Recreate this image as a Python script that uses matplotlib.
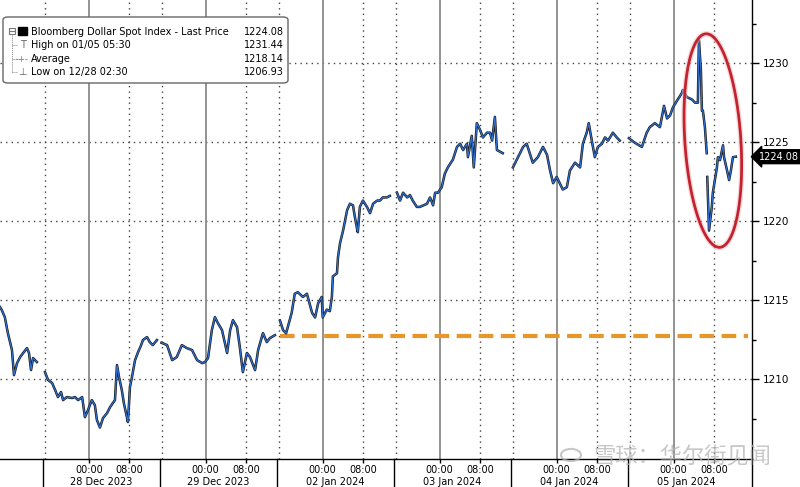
import numpy as np
import matplotlib
matplotlib.use("Agg")
import matplotlib.pyplot as plt
from matplotlib.patches import FancyBboxPatch, Rectangle, Polygon, Circle
from matplotlib.lines import Line2D
import matplotlib.transforms as mtransforms

plt.rcParams['font.family'] = ['DejaVu Sans', 'Noto Sans CJK SC']

# ---------------- data ----------------
# x = hours since start of the 28 Dec session (each session is 23 h, 00:00 at +9 h, 08:00 at +17 h)
session_labels = ['28 Dec 2023', '29 Dec 2023', '02 Jan 2024', '03 Jan 2024', '04 Jan 2024', '05 Jan 2024']
session_len = 23
hour_labels = ['00:00', '08:00']
hour_offsets = [9, 17]

t_27 = [-8.45, -8.1, -7.5, -6.9, -6.1, -5.7, -5.1, -4.5, -3.9, -3.15, -2.75, -2.35, -1.95, -1.2]
v_27 = [1214.56, 1214.37, 1213.92, 1212.91, 1211.84, 1210.25, 1211.01, 1211.39, 1211.65, 1211.96,
        1211.65, 1210.57, 1211.33, 1211.08]

t_28 = [0.4, 1.0, 1.8, 2.4, 2.95, 3.55, 3.95, 4.7, 5.7, 6.3, 6.9, 7.7, 8.25, 8.85, 9.6, 10.2, 10.6,
        11.2, 11.8, 12.6, 13.2, 14.15, 14.55, 14.95, 15.5, 15.9, 16.5, 16.7, 17.1, 17.5, 18.1, 18.7,
        19.3, 19.65, 20.45, 21.0, 21.6, 22.4]
v_28 = [1210.44, 1209.94, 1209.75, 1209.30, 1208.86, 1209.18, 1208.67, 1208.86, 1208.80, 1208.86,
        1208.67, 1208.86, 1207.59, 1208.04, 1208.67, 1208.35, 1207.41, 1206.93, 1207.53, 1207.85,
        1208.23, 1208.67, 1210.89, 1210.13, 1209.30, 1208.48, 1207.59, 1207.28, 1209.49, 1210.13,
        1211.20, 1211.71, 1212.15, 1212.47, 1212.66, 1212.34, 1212.15, 1212.47]

t_29 = [23.3, 24.4, 25.4, 26.3, 27.3, 28.3, 29.3, 30.3, 31.3, 31.85, 32.45, 33.2, 33.8, 34.4, 35.2,
        36.2, 36.8, 37.35, 38.15, 38.7, 39.3, 40.1, 40.7, 41.7, 42.3, 43.25, 44.0, 44.6, 45.6]
v_29 = [1212.30, 1212.15, 1211.20, 1211.39, 1212.15, 1211.96, 1211.84, 1211.20, 1211.01, 1211.08,
        1211.33, 1213.10, 1213.92, 1213.54, 1213.10, 1211.65, 1213.10, 1213.73, 1213.29, 1212.03,
        1210.44, 1211.65, 1211.39, 1210.57, 1211.84, 1212.91, 1212.34, 1212.59, 1212.78]

t_02 = [46.6, 47.2, 47.8, 48.9, 49.5, 50.1, 51.1, 51.9, 52.9, 53.5, 54.1, 54.8, 55.0, 55.8, 56.4,
        56.8, 57.0, 57.8, 58.0, 58.4, 59.0, 59.8, 60.35, 60.95, 61.3, 61.7, 61.9, 62.3, 62.9, 63.7,
        64.3, 64.9, 65.7, 66.25, 66.8, 67.6, 68.2]
v_02 = [1213.7, 1213.1, 1212.9, 1214.2, 1215.4, 1215.5, 1215.2, 1215.4, 1214.2, 1213.9, 1214.8,
        1215.2, 1213.9, 1214.4, 1214.3, 1215.2, 1216.5, 1216.7, 1217.7, 1218.6, 1219.4, 1220.7,
        1221.1, 1221.0, 1220.3, 1219.6, 1219.3, 1220.9, 1221.3, 1220.9, 1220.5, 1221.1, 1221.3,
        1221.3, 1221.5, 1221.5, 1221.6]

t_03 = [69.6, 70.2, 70.8, 71.6, 72.15, 72.7, 73.5, 74.1, 75.5, 76.1, 76.7, 77.1, 77.65, 78.4, 79.0,
        79.6, 80.6, 81.4, 82.0, 82.6, 83.35, 83.55, 84.3, 84.7, 85.3, 85.9, 86.5, 87.3, 87.9, 88.3,
        88.85, 89.25, 89.85, 90.4]
v_03 = [1221.8, 1221.3, 1221.8, 1221.5, 1221.65, 1221.3, 1220.9, 1220.9, 1221.1, 1221.5, 1221.0,
        1221.8, 1221.8, 1222.15, 1223.0, 1223.4, 1223.9, 1224.7, 1224.9, 1224.5, 1224.9, 1224.05,
        1225.4, 1223.4, 1226.2, 1225.8, 1225.3, 1225.6, 1225.6, 1225.1, 1226.6, 1224.5, 1224.4,
        1224.3]

t_04 = [92.4, 93.4, 94.4, 95.1, 95.7, 96.3, 97.3, 98.3, 99.1, 99.7, 100.3, 101.0, 101.6, 102.2,
        103.0, 103.6, 104.6, 105.6, 106.15, 106.9, 107.3, 107.9, 108.5, 109.1, 109.9, 110.5, 111.1,
        112.05, 112.8, 113.4]
v_04 = [1223.4, 1224.05, 1224.7, 1224.9, 1224.3, 1223.7, 1224.05, 1224.7, 1224.2, 1223.2, 1222.4,
        1222.8, 1222.4, 1222.0, 1222.15, 1223.2, 1223.7, 1223.4, 1224.9, 1225.6, 1226.2, 1225.1,
        1224.05, 1224.7, 1224.9, 1225.3, 1225.1, 1225.6, 1225.3, 1225.1]

t_05a = [115.2, 116.2, 117.2, 117.75, 118.7, 119.3, 120.3, 121.3, 122.1, 122.7, 123.3, 123.85, 124.8,
         125.6, 125.8, 126.6, 127.6, 128.2, 128.76, 128.96, 129.35, 129.55, 129.74, 130.14, 130.5]
v_05a = [1225.25, 1225.0, 1224.8, 1224.7, 1225.6, 1225.95, 1226.2, 1225.95, 1227.3, 1226.5, 1226.7,
         1227.2, 1227.7, 1228.1, 1228.3, 1227.85, 1227.7, 1227.5, 1227.5, 1231.44, 1229.6, 1227.0,
         1227.0, 1225.95, 1224.3]
t_05b = [130.6, 130.8, 130.95, 131.5, 131.7, 132.1, 132.5, 132.7, 133.1, 133.7, 133.9, 134.5, 134.9,
         135.25, 135.65, 136.23]
v_05b = [1222.8, 1220.9, 1219.4, 1220.9, 1221.8, 1222.6, 1223.4, 1224.05, 1223.86, 1224.8, 1224.05,
         1223.2, 1222.6, 1223.2, 1224.05, 1224.08]

series_t = [t_27, t_28, t_29, t_02, t_03, t_04, t_05a, t_05b]
series_v = [v_27, v_28, v_29, v_02, v_03, v_04, v_05a, v_05b]

ref_level = 1212.75
ref_start, ref_end = 46.6, 138.6
last_price = 1224.08

legend_rows = ['Bloomberg Dollar Spot Index - Last Price', 'High on 01/05 05:30', 'Average', 'Low on 12/28 02:30']
legend_vals = ['1224.08', '1231.44', '1218.14', '1206.93']

yticks_major = [1210, 1215, 1220, 1225, 1230]

# ---------------- figure ----------------
W, H = 800, 487
fig = plt.figure(figsize=(W / 100, H / 100), dpi=100)
ax = fig.add_axes([0, 28 / H, 752 / W, 459 / H])
ax.set_xlim(-8.45, 139.4)
ax.set_ylim(1204.94, 1234.0)

for s in ['top', 'left']:
    ax.spines[s].set_visible(False)
for s in ['bottom', 'right']:
    ax.spines[s].set_color('black')
    ax.spines[s].set_linewidth(1.0)

# y axis on right
ax.yaxis.tick_right()
ax.set_yticks(yticks_major)
ax.set_yticks(np.arange(1207.5, 1234, 5), minor=True)
ax.tick_params(axis='y', which='major', length=5, width=1, pad=3, labelsize=7.5, colors='black')
ax.tick_params(axis='y', which='minor', length=3, width=1)

# x ticks
xt, xl = [], []
n_sess = len(session_labels)
for k in range(n_sess):
    for off, lab in zip(hour_offsets, hour_labels):
        xt.append(off + session_len * k)
        xl.append(lab)
ax.set_xticks(xt)
ax.set_xticklabels(xl)
ax.tick_params(axis='x', length=3, width=1, pad=1.5, labelsize=7, colors='black')

# grid
for y in yticks_major:
    ax.axhline(y, color='#444444', lw=1.0, ls=(0, (1, 3)), zorder=1)
for k in range(n_sess):
    base = session_len * k
    ax.axvline(base + hour_offsets[0], color='#8a8a8a', lw=1.3, zorder=1)
    ax.axvline(base + hour_offsets[1], color='#444444', lw=1.0, ls=(0, (1, 3)), zorder=1)
    ax.axvline(base + 0.4, color='#444444', lw=1.0, ls=(0, (1, 3)), zorder=1)
    # separator below axis
    sep = Line2D([base, base], [0, -28 / 459], transform=ax.get_xaxis_transform(),
                 color='black', lw=1.0, clip_on=False)
    ax.add_line(sep)
    ax.text(base + session_len / 2, -23 / 459, session_labels[k], transform=ax.get_xaxis_transform(),
            ha='center', va='center', fontsize=7)
ax.add_line(Line2D([ax.get_xlim()[1]] * 2, [0, -28 / 459], transform=ax.get_xaxis_transform(),
                   color='black', lw=1.0, clip_on=False))

# reference dashed line
ax.plot([ref_start, ref_end], [ref_level, ref_level], color='#e8952c', lw=3, dashes=(3.5, 1.8),
        zorder=2, solid_capstyle='butt')

# price line
for ts, vs in zip(series_t, series_v):
    ax.plot(ts, vs, color='#161616', lw=1.8, zorder=3)
    ax.plot(ts, vs, color='#2f6fcf', lw=0.9, zorder=4)

# last price tag
tr = mtransforms.blended_transform_factory(ax.transAxes, ax.transData)
ax.text(1.009, last_price, '1224.08', transform=tr, ha='left', va='center', fontsize=7,
        color='white', bbox=dict(boxstyle='larrow,pad=0.2', fc='black', ec='black'), zorder=5,
        clip_on=False)

# red ellipse around the move on 05 Jan
cx, cy = ax.transData.transform((131.7, 1225.1))
a, b = 28, 107
uy = np.array([-7.0, 107.0]); uy /= np.linalg.norm(uy)
ux = np.array([uy[1], -uy[0]])
th = np.linspace(0, 2 * np.pi, 200)
pts = np.column_stack([cx + a * np.cos(th) * ux[0] + b * np.sin(th) * uy[0],
                       cy + a * np.cos(th) * ux[1] + b * np.sin(th) * uy[1]])
fig.add_artist(Polygon(pts, closed=True, fill=False, ec='#f3b8bc', lw=4.0, alpha=0.5,
                       transform=mtransforms.IdentityTransform()))
fig.add_artist(Polygon(pts, closed=True, fill=False, ec='#c3232e', lw=2.0,
                       transform=mtransforms.IdentityTransform()))

# ---------------- legend box ----------------
def fx(px):
    return px / W

def fy(py):
    return 1 - py / H

fig.add_artist(FancyBboxPatch((fx(3), fy(83)), fx(288) - fx(3), fy(17) - fy(83),
                              boxstyle='round,pad=0,rounding_size=0.006', fc='white', ec='#666666',
                              lw=1.0, transform=fig.transFigure, zorder=5))
row_y = [32, 45, 59, 72]
for lab, val, y in zip(legend_rows, legend_vals, row_y):
    fig.text(fx(31), fy(y), lab, fontsize=7, ha='left', va='center', zorder=6)
    fig.text(fx(284), fy(y), val, fontsize=7, ha='right', va='center', zorder=6)
# tree icons
fig.add_artist(Rectangle((fx(9), fy(34)), fx(6), fy(28) - fy(34), fill=False, ec='#777777', lw=0.8,
                         transform=fig.transFigure, zorder=6))
fig.add_artist(Line2D([fx(10), fx(14)], [fy(31), fy(31)], color='#777777', lw=0.8, zorder=6))
fig.add_artist(Rectangle((fx(18), fy(35)), fx(9), fy(27) - fy(35), fc='black', ec='black',
                         transform=fig.transFigure, zorder=6))
fig.add_artist(Line2D([fx(12), fx(12)], [fy(34), fy(73)], color='#888888', lw=0.7, ls=(0, (1, 1)), zorder=6))
for y in row_y[1:]:
    fig.add_artist(Line2D([fx(12), fx(17)], [fy(y), fy(y)], color='#888888', lw=0.7, ls=(0, (1, 1)), zorder=6))
fig.text(fx(22.5), fy(45), 'T', fontsize=7, ha='center', va='center', color='#666666', zorder=6)
fig.text(fx(22.5), fy(59), '-+-', fontsize=6, ha='center', va='center', color='#777777', zorder=6)
fig.text(fx(22.5), fy(72), '⊥', fontsize=7, ha='center', va='center', color='#666666', zorder=6)

# ---------------- watermark ----------------
fig.text(fx(682), fy(457), '雪球：华尔街见闻', family=['Noto Sans CJK SC'], fontsize=16,
         color='#b5b5b5', alpha=0.75, ha='center', va='center', zorder=7)
fig.add_artist(Circle((fx(571), fy(455)), 10 / W, fill=False, ec='#b5b5b5', lw=1.5, alpha=0.75,
                      transform=fig.transFigure, zorder=7))

fig.savefig('out.png', dpi=100)
